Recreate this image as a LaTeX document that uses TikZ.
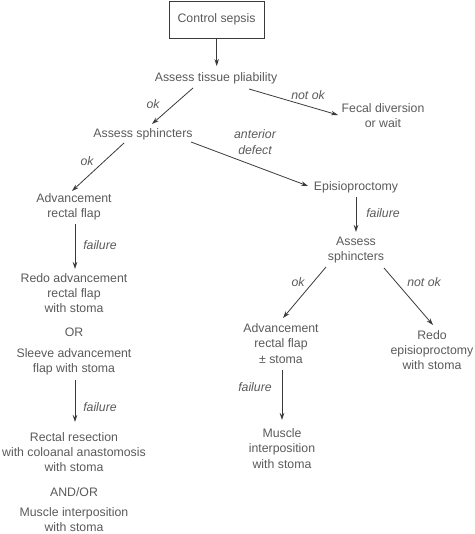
\documentclass[tikz,border=0pt]{standalone}
\usepackage{fontspec}
\setmainfont{Liberation Sans}
\usetikzlibrary{arrows.meta,calc}
\definecolor{txt}{HTML}{5A5A5A}
\definecolor{ln}{HTML}{3A3A3A}
\begin{document}
\begin{tikzpicture}[x=1pt,y=-1pt,
  every node/.style={inner sep=0pt, text=txt, font=\fontsize{12.3}{15.3}\selectfont, align=center},
  lbl/.style={font=\fontsize{12.3}{15.3}\selectfont\itshape},
  arr/.style={draw=ln, line width=0.8pt, -{Stealth[length=7pt,width=4.5pt]}},
  boxnode/.style={draw=ln, line width=0.8pt, minimum width=95pt, minimum height=37pt}]
\useasboundingbox (0,0) rectangle (474,534);
% nodes
\node[boxnode] (cs) at (216.5,19.5) {Control sepsis};
\node (ats) at (216,78) {Assess tissue pliability};
\node (fd) at (383,115.5) {Fecal diversion\\or wait};
\node (as) at (143,134) {Assess sphincters};
\node (ep) at (356,187) {Episioproctomy};
\node (af) at (74,206.5) {Advancement\\rectal flap};
\node (redo) at (74,293) {Redo advancement\\rectal flap\\with stoma};
\node (or) at (74,332) {OR};
\node (sleeve) at (74,361.5) {Sleeve advancement\\flap with stoma};
\node (rr) at (74,452) {Rectal resection\\with coloanal anastomosis\\with stoma};
\node (andor) at (74,492) {AND/OR};
\node (mi) at (74,519.5) {Muscle interposition\\with stoma};
\node (as2) at (356,250) {Assess\\sphincters};
\node (af2) at (281,343.5) {Advancement\\rectal flap\\± stoma};
\node (redo2) at (432,350) {Redo\\episioproctomy\\with stoma};
\node (mi2) at (282,448.5) {Muscle\\interposition\\with stoma};
% labels
\node[lbl] (l1) at (153,104) {ok};
\node[lbl] (l2) at (308,95) {not ok};
\node[lbl] (l3) at (255,142) {anterior\\defect};
\node[lbl] (l4) at (87,161) {ok};
\node[lbl] (l5) at (100,245) {failure};
\node[lbl] (l6) at (100,407) {failure};
\node[lbl] (l7) at (383,213) {failure};
\node[lbl] (l8) at (298,282) {ok};
\node[lbl] (l9) at (424,282) {not ok};
\node[lbl] (l10) at (255,387) {failure};
% connectors
\draw[arr] ($(cs)+(0.2,18.5)$) -- ($(ats)+(0.7,-12)$);
\draw[arr] ($(ats)+(-23,10)$) -- ($(as)+(9,-10)$);
\draw[arr] ($(ats)+(33,11)$) -- ($(fd)+(-45,-0.5)$);
\draw[arr] ($(as)+(48,8)$) -- ($(ep)+(-48,-1)$);
\draw[arr] ($(as)+(-19,9)$) -- ($(af)+(-2,-15.5)$);
\draw[arr] ($(af)+(1,17.5)$) -- ($(redo)+(1,-24)$);
\draw[arr] ($(sleeve)+(1,18.5)$) -- ($(rr)+(1,-30)$);
\draw[arr] ($(ep)+(0,10)$) -- ($(as2)+(0,-18)$);
\draw[arr] ($(as2)+(-30,17)$) -- ($(af2)+(2,-25.5)$);
\draw[arr] ($(as2)+(28,18)$) -- ($(redo2)+(1,-25)$);
\draw[arr] ($(af2)+(1,26.5)$) -- ($(mi2)+(0,-28.5)$);
\end{tikzpicture}
\end{document}
